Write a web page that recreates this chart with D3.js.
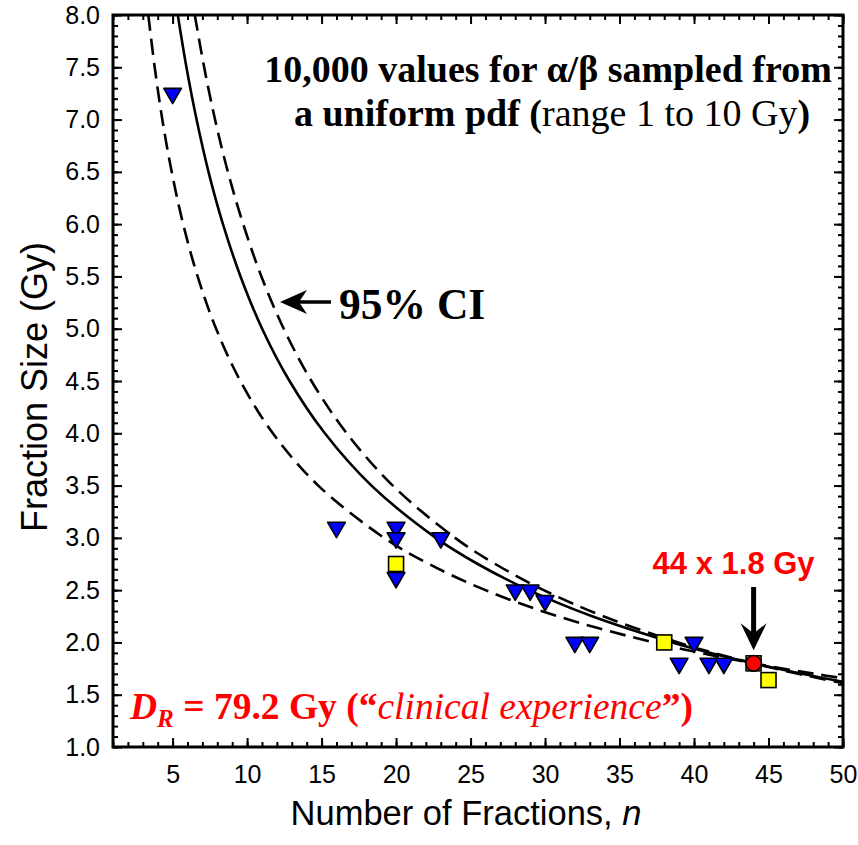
<!DOCTYPE html>
<html><head><meta charset="utf-8">
<script src="https://cdn.jsdelivr.net/npm/d3@7"></script>
<style>body{margin:0;background:#fff}</style>
</head><body><svg id="chart" width="858" height="845"></svg>
<script>
// Isoeffect curves [number of fractions, fraction size in Gy]
const centralCurve = [[5.35,8],[5.93,7.5],[6.61,7],[7.41,6.5],[8.38,6],[9.56,5.5],[11.01,5],[12.85,4.5],[15.22,4],[18.35,3.5],[22.67,3],[25.48,2.75],[28.91,2.5],[33.16,2.25],[38.54,2],[41.12,1.9],[44,1.8],[47.24,1.7],[50.12,1.62]];
const upperCI = [[6.49,8],[7.12,7.5],[7.85,7],[8.71,6.5],[9.74,6],[10.96,5.5],[12.46,5],[14.32,4.5],[16.69,4],[19.78,3.5],[23.96,3],[26.66,2.75],[29.91,2.5],[33.91,2.25],[38.94,2],[41.33,1.9],[44,1.8],[46.99,1.7],[50.35,1.6]];
const lowerCI = [[3.37,8],[3.80,7.5],[4.31,7],[4.94,6.5],[5.71,6],[6.68,5.5],[7.92,5],[9.55,4.5],[11.73,4],[14.78,3.5],[19.2,3],[22.21,2.75],[26.0,2.5],[30.86,2.25],[37.27,2],[40.42,1.9],[44,1.8],[48.09,1.7],[50.36,1.65]];

// Fractionation schedules [n, fraction size]
const triangleSchedules = [[5,7.25],[16,3.1],[20,3.1],[20,3.0],[20,2.62],[23,3.0],[28,2.5],[29,2.5],[30,2.4],[32,2.0],[33,2.0],[40,2.0],[39,1.8],[41,1.8],[42,1.8]];
const squareSchedules = [[20,2.75],[38,2.0],[44,1.8],[45,1.64]];
const referenceSchedule = [[44,1.8]];

const xMajorTicks = [5,10,15,20,25,30,35,40,45,50];
const yMajorTicks = [1.0,1.5,2.0,2.5,3.0,3.5,4.0,4.5,5.0,5.5,6.0,6.5,7.0,7.5,8.0];

const svg = d3.select("#chart");
const L = 113, R = 843, T = 15, B = 747;
const x = d3.scaleLinear().domain([1, 50]).range([L, R]);
const y = d3.scaleLinear().domain([1, 8]).range([B, T]);

const sans = "'Liberation Sans', Arial, sans-serif";
const serif = "'Liberation Serif', 'Times New Roman', serif";

svg.append("defs").append("clipPath").attr("id", "plot")
  .append("rect").attr("x", L).attr("y", T).attr("width", R - L).attr("height", B - T);

// Minor / major ticks pointing inward on all four sides
const xMinor = d3.range(1, 51);
const yMinor = d3.range(10, 81).map(v => v / 10);
function tickAxis(axisFn, scale, vals, size, tx, ty) {
  const g = svg.append("g").attr("transform", `translate(${tx},${ty})`)
    .call(axisFn(scale).tickValues(vals).tickSizeInner(-size).tickSizeOuter(0).tickFormat(""));
  g.select(".domain").remove();
  g.selectAll("line").attr("stroke", "#000").attr("stroke-width", 2);
  return g;
}
tickAxis(d3.axisBottom, x, xMinor, 5, 0, B);
tickAxis(d3.axisBottom, x, xMajorTicks, 9, 0, B);
tickAxis(d3.axisTop, x, xMinor, 5, 0, T);
tickAxis(d3.axisTop, x, xMajorTicks, 9, 0, T);
tickAxis(d3.axisLeft, y, yMinor, 5, L, 0);
tickAxis(d3.axisLeft, y, yMajorTicks, 9, L, 0);
tickAxis(d3.axisRight, y, yMinor, 5, R, 0);
tickAxis(d3.axisRight, y, yMajorTicks, 9, R, 0);

// Tick labels
const xLab = svg.append("g").attr("transform", `translate(0,${B})`)
  .call(d3.axisBottom(x).tickValues(xMajorTicks).tickSize(0).tickPadding(18).tickFormat(d3.format("d")));
xLab.select(".domain").remove();
xLab.selectAll("text").attr("font-family", sans).attr("font-size", 25).attr("fill", "#000");

const yLab = svg.append("g").attr("transform", `translate(${L},0)`)
  .call(d3.axisLeft(y).tickValues(yMajorTicks).tickSize(0).tickPadding(13).tickFormat(d3.format(".1f")));
yLab.select(".domain").remove();
yLab.selectAll("text").attr("font-family", sans).attr("font-size", 25).attr("fill", "#000");

// Axis titles
const xt = svg.append("text").attr("x", 466).attr("y", 825).attr("text-anchor", "middle")
  .attr("font-family", sans).attr("font-size", 34.5).attr("fill", "#000");
xt.append("tspan").text("Number of Fractions, ");
xt.append("tspan").attr("font-style", "italic").text("n");

svg.append("text").attr("transform", "translate(47,387) rotate(-90)").attr("text-anchor", "middle")
  .attr("font-family", sans).attr("font-size", 36).attr("fill", "#000").text("Fraction Size (Gy)");

// Curves
const line = d3.line().x(d => x(d[0])).y(d => y(d[1])).curve(d3.curveCatmullRom);
const curves = svg.append("g").attr("clip-path", "url(#plot)");
curves.append("path").attr("d", line(lowerCI)).attr("fill", "none").attr("stroke", "#000")
  .attr("stroke-width", 2.6).attr("stroke-dasharray", "16,8");
curves.append("path").attr("d", line(upperCI)).attr("fill", "none").attr("stroke", "#000")
  .attr("stroke-width", 2.6).attr("stroke-dasharray", "16,8");
curves.append("path").attr("d", line(centralCurve)).attr("fill", "none").attr("stroke", "#000")
  .attr("stroke-width", 2.6);

// Markers
svg.append("g").selectAll("rect").data(squareSchedules).join("rect")
  .attr("x", d => x(d[0]) - 7.5).attr("y", d => y(d[1]) - 7.5).attr("width", 15).attr("height", 15)
  .attr("fill", "#ffff00").attr("stroke", "#000").attr("stroke-width", 1.6);

const tri = d3.symbol().type(d3.symbolTriangle).size(135);
svg.append("g").selectAll("path").data(triangleSchedules).join("path")
  .attr("d", tri).attr("transform", d => `translate(${x(d[0])},${y(d[1])}) rotate(180)`)
  .attr("fill", "#0000ff").attr("stroke", "#000").attr("stroke-width", 1.6).attr("stroke-linejoin", "round");

svg.append("g").selectAll("circle").data(referenceSchedule).join("circle")
  .attr("cx", d => x(d[0])).attr("cy", d => y(d[1])).attr("r", 7.8)
  .attr("fill", "#ff0000").attr("stroke", "#000").attr("stroke-width", 1.6);

// Frame
svg.append("rect").attr("x", L).attr("y", T).attr("width", R - L).attr("height", B - T)
  .attr("fill", "none").attr("stroke", "#000").attr("stroke-width", 3);

// Title annotation
svg.append("text").attr("x", 548).attr("y", 82).attr("text-anchor", "middle")
  .attr("font-family", serif).attr("font-size", 38).attr("font-weight", "bold").attr("fill", "#000")
  .text("10,000 values for α/β sampled from");
const t2 = svg.append("text").attr("x", 552).attr("y", 126).attr("text-anchor", "middle")
  .attr("font-family", serif).attr("font-size", 38).attr("fill", "#000");
t2.append("tspan").attr("font-weight", "bold").text("a uniform pdf (");
t2.append("tspan").text("range 1 to 10 Gy");
t2.append("tspan").attr("font-weight", "bold").text(")");

// 95% CI pointer
const ciY = 302;
svg.append("line").attr("x1", 286).attr("x2", 331).attr("y1", ciY).attr("y2", ciY)
  .attr("stroke", "#000").attr("stroke-width", 3.5);
svg.append("path").attr("d", `M280,${ciY} L307,${ciY - 12} L299,${ciY} L307,${ciY + 12} Z`).attr("fill", "#000");
svg.append("text").attr("x", 339).attr("y", 319).attr("font-family", serif).attr("font-size", 43.5)
  .attr("font-weight", "bold").attr("fill", "#000").text("95% CI");

// Reference schedule pointer
const rx = x(referenceSchedule[0][0]), ry = y(referenceSchedule[0][1]);
svg.append("text").attr("x", rx - 20).attr("y", 574).attr("text-anchor", "middle")
  .attr("font-family", sans).attr("font-size", 31).attr("font-weight", "bold").attr("fill", "#ff0000")
  .text("44 x 1.8 Gy");
svg.append("line").attr("x1", rx).attr("x2", rx).attr("y1", 587).attr("y2", ry - 30)
  .attr("stroke", "#000").attr("stroke-width", 5);
svg.append("path").attr("d", `M${rx},${ry - 13} L${rx - 13},${ry - 40} L${rx},${ry - 30} L${rx + 13},${ry - 40} Z`)
  .attr("fill", "#000");

// Reference dose label
const dr = svg.append("text").attr("x", 130).attr("y", 719).attr("font-family", serif)
  .attr("font-size", 37.5).attr("fill", "#ff0000");
dr.append("tspan").attr("font-weight", "bold").attr("font-style", "italic").text("D");
dr.append("tspan").attr("font-weight", "bold").attr("font-style", "italic").attr("font-size", 25).attr("dy", 8).text("R");
dr.append("tspan").attr("font-weight", "bold").attr("dy", -8).text(" = 79.2 Gy (“");
dr.append("tspan").attr("font-style", "italic").text("clinical experience");
dr.append("tspan").attr("font-weight", "bold").text("”)");
</script></body></html>
